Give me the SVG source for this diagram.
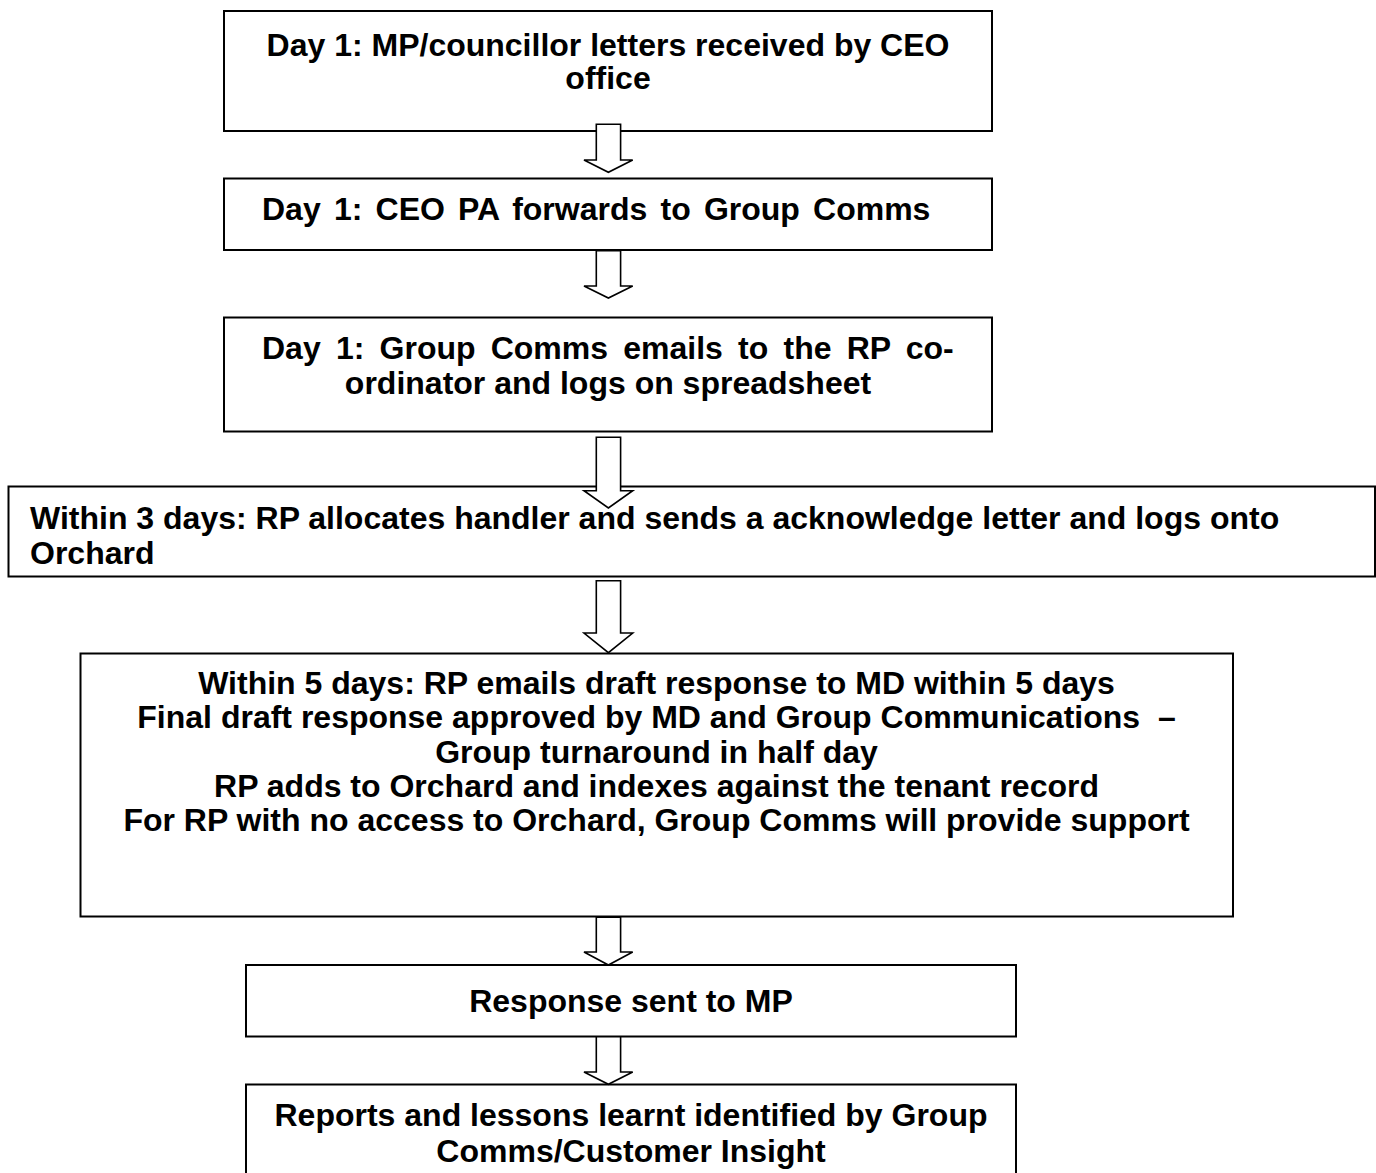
<svg xmlns="http://www.w3.org/2000/svg" width="1376" height="1173" viewBox="0 0 1376 1173">
  <style>
    .box { fill: #ffffff; stroke: #000000; stroke-width: 2; }
    .arrow { fill: #ffffff; stroke: #000000; stroke-width: 1.6; stroke-linejoin: miter; }
    .t { font-family: "Liberation Sans", Arial, sans-serif; font-weight: bold; font-size: 32px; fill: #000000; }
    .c { text-anchor: middle; }
  </style>
  <rect width="1376" height="1173" fill="#ffffff"/>

  <g id="n1">
    <rect class="box" x="224" y="11" width="768" height="120"/>
    <text class="t c" x="608" y="56">Day 1: MP/councillor letters received by CEO</text>
    <text class="t c" x="608" y="89">office</text>
  </g>
  <g id="n2">
    <rect class="box" x="224" y="178.5" width="768" height="71.5"/>
    <text class="t" x="262" y="220" word-spacing="4.3">Day 1: CEO PA forwards to Group Comms</text>
  </g>
  <g id="n3">
    <rect class="box" x="224" y="317.5" width="768" height="114"/>
    <text class="t" x="262" y="359" word-spacing="6.3">Day 1: Group Comms emails to the RP co-</text>
    <text class="t c" x="608" y="394">ordinator and logs on spreadsheet</text>
  </g>
  <g id="n4">
    <rect class="box" x="8.5" y="486.5" width="1366.5" height="90"/>
    <text class="t" x="30" y="529">Within 3 days: RP allocates handler and sends a acknowledge letter and logs onto</text>
    <text class="t" x="30" y="564">Orchard</text>
  </g>
  <g id="n5">
    <rect class="box" x="80.5" y="653.5" width="1152.5" height="263"/>
    <text class="t c" x="656.5" y="694">Within 5 days: RP emails draft response to MD within 5 days</text>
    <text class="t c" x="656.5" y="728" xml:space="preserve">Final draft response approved by MD and Group Communications &#160;–</text>
    <text class="t c" x="656.5" y="763">Group turnaround in half day</text>
    <text class="t c" x="656.5" y="797">RP adds to Orchard and indexes against the tenant record</text>
    <text class="t c" x="656.5" y="831">For RP with no access to Orchard, Group Comms will provide support</text>
  </g>
  <g id="n6">
    <rect class="box" x="246" y="965" width="770" height="71.5"/>
    <text class="t c" x="631" y="1012">Response sent to MP</text>
  </g>
  <g id="n7">
    <rect class="box" x="246" y="1084.5" width="770" height="100"/>
    <text class="t c" x="631" y="1126">Reports and lessons learnt identified by Group</text>
    <text class="t c" x="631" y="1162">Comms/Customer Insight</text>
  </g>

  <!-- hollow block arrows between consecutive steps -->
  <g id="connectors">
    <path class="arrow" d="M 596.3 124.3 L 620.6 124.3 L 620.6 160 L 632.7 160 L 608.4 172.3 L 584 160 L 596.3 160 Z"/>
    <path class="arrow" d="M 596.3 250.7 L 620.6 250.7 L 620.6 286 L 632.7 286 L 608.4 298 L 584 286 L 596.3 286 Z"/>
    <path class="arrow" d="M 596.3 437.3 L 620.6 437.3 L 620.6 490.7 L 632.7 490.7 L 608.4 508 L 584 490.7 L 596.3 490.7 Z"/>
    <path class="arrow" d="M 596.3 580.7 L 620.6 580.7 L 620.6 633 L 632.7 633 L 608.4 652.7 L 584 633 L 596.3 633 Z"/>
    <path class="arrow" d="M 596.3 917.3 L 620.6 917.3 L 620.6 952 L 632.7 952 L 608.4 965 L 584 952 L 596.3 952 Z"/>
    <path class="arrow" d="M 596.3 1036.7 L 620.6 1036.7 L 620.6 1072 L 632.7 1072 L 608.4 1084.3 L 584 1072 L 596.3 1072 Z"/>
  </g>
</svg>
